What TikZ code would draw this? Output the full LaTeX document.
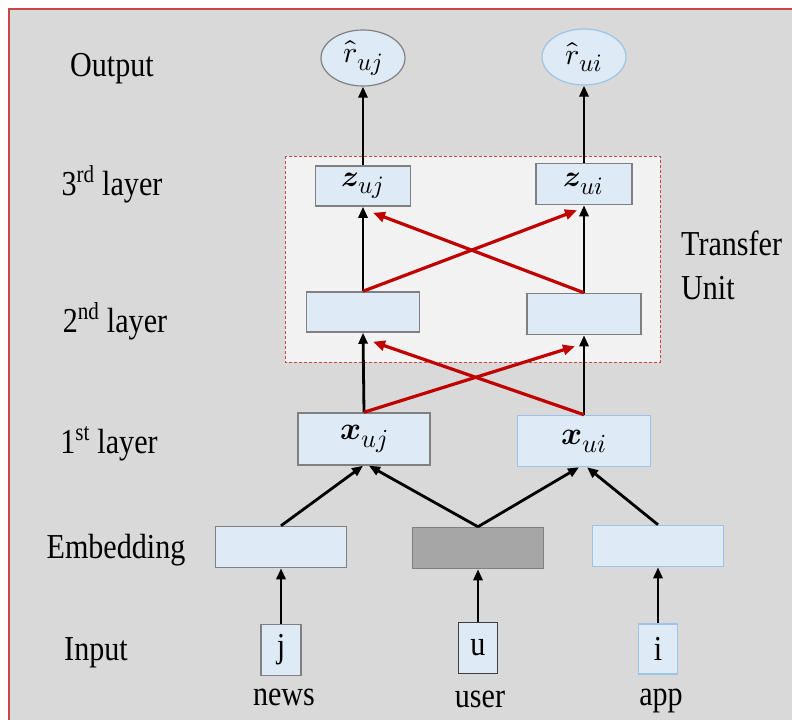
\documentclass[tikz,border=0pt]{standalone}
\usepackage{fontspec}
\usepackage{unicode-math}
\setmainfont{Liberation Serif}
\setmathfont{Latin Modern Math}
\DeclareMathSizes{30}{30}{25}{20}
\DeclareMathSizes{32}{32}{26}{21}
\newfontfamily\lab[FakeStretch=0.86]{Liberation Serif}
\usetikzlibrary{arrows.meta,shapes.geometric}
\definecolor{bg}{RGB}{217,217,217}
\definecolor{frame}{RGB}{200,70,70}
\definecolor{tu}{RGB}{242,242,242}
\definecolor{boxfill}{RGB}{222,235,247}
\definecolor{boxgray}{RGB}{128,128,128}
\definecolor{boxblue}{RGB}{157,195,230}
\definecolor{embgray}{RGB}{166,166,166}
\definecolor{arrred}{RGB}{192,0,0}
\tikzset{
  lbl/.style={font=\lab\fontsize{35}{40}\selectfont, inner sep=0pt},
  mth/.style={font=\fontsize{30}{34}\selectfont},
  mthx/.style={font=\fontsize{32}{36}\selectfont},
  cell/.style={draw=boxgray, fill=boxfill, line width=1.5pt, rectangle, inner sep=0pt},
  bluecell/.style={cell, draw=boxblue},
  oval/.style={ellipse, draw=boxgray, fill=boxfill, line width=1.2pt, inner sep=0pt, minimum width=84pt, minimum height=56pt},
  blk/.style={line width=2.8pt, -{Triangle[length=11pt,width=9pt]}},
  red/.style={line width=3.2pt, draw=arrred, -{Triangle[length=12pt,width=10pt]}},
}
\begin{document}
\begin{tikzpicture}[x=1pt,y=-1pt]
\useasboundingbox (0,0) rectangle (792,720);
\fill[bg] (9,9) rectangle (792,720);
\draw[frame, line width=1.2pt] (9,720) -- (9,9) -- (792,9);
% transfer unit region
\draw[frame, densely dashed, line width=0.7pt, fill=tu] (285,156) rectangle (660,362);
\node[lbl, anchor=base west] (tr) at (681,255) {Transfer};
\node[lbl, anchor=base west] (un) at (681,299) {Unit};
% left labels
\node[lbl, anchor=base] (lo) at (112,76) {Output};
\node[lbl, anchor=base] (l3) at (112,195) {3\textsuperscript{rd} layer};
\node[lbl, anchor=base] (l2) at (115,332) {2\textsuperscript{nd} layer};
\node[lbl, anchor=base] (l1) at (109,453) {1\textsuperscript{st} layer};
\node[lbl, anchor=base] (le) at (116,558) {Embedding};
\node[lbl, anchor=base] (li) at (96,660) {Input};
% outputs
\node[oval, mth] (rj) at (363,58) {$\hat{r}_{uj}$};
\node[oval, mth, draw=boxblue] (ri) at (584,57) {$\hat{r}_{ui}$};
% 3rd layer
\node[cell, mth, minimum width=95pt, minimum height=40pt] (zj) at (363,186) {$\symbfit{z}_{uj}$};
\node[cell, mth, minimum width=96pt, minimum height=41pt] (zi) at (584,184) {$\symbfit{z}_{ui}$};
% 2nd layer
\node[cell, minimum width=113pt, minimum height=40pt] (hj) at (363,312) {};
\node[cell, minimum width=114pt, minimum height=41pt] (hi) at (584,314) {};
% 1st layer
\node[cell, mthx, minimum width=132pt, minimum height=52pt] (xj) at (364,439) {$\symbfit{x}_{uj}$};
\node[bluecell, mthx, minimum width=133pt, minimum height=51pt] (xi) at (584,441) {$\symbfit{x}_{ui}$};
% embedding
\node[cell, minimum width=131pt, minimum height=41pt] (ej) at (281,547) {};
\node[cell, fill=embgray, draw=boxgray, minimum width=131pt, minimum height=41pt] (eu) at (478,548) {};
\node[bluecell, minimum width=131pt, minimum height=41pt] (ei) at (658,546) {};
% inputs
\node[cell, lbl, minimum width=40pt, minimum height=51pt] (ij) at (281,650) {j};
\node[cell, lbl, draw=black!75, line width=1.2pt, minimum width=39pt, minimum height=51pt] (iu) at (478,648) {u};
\node[bluecell, lbl, minimum width=39pt, minimum height=50pt] (ii) at (658,649) {i};
\node[lbl, anchor=base] (nw) at (284,705) {news};
\node[lbl, anchor=base] (us) at (480,707) {user};
\node[lbl, anchor=base] (ap) at (661,705) {app};
% black arrows
\draw[blk] (ij.north) -- (ej.south);
\draw[blk] (iu.north) -- (eu.south);
\draw[blk] (ii.north) -- (ei.south);
\draw[blk] (ej.north) -- ([xshift=-1pt]xj.south);
\draw[blk] (eu.north) -- ([xshift=5pt]xj.south);
\draw[blk] (eu.north) -- ([xshift=-5pt]xi.south);
\draw[blk] (ei.north) -- ([xshift=3pt]xi.south);
\draw[blk] (xj.north) -- (hj.south);
\draw[blk] (xi.north) -- (hi.south);
\draw[blk] (hj.north) -- (zj.south);
\draw[blk] (hi.north) -- (zi.south);
\draw[blk] (zj.north) -- (rj.south);
\draw[blk] (zi.north) -- (ri.south);
% red cross arrows
\draw[red] (xj.north) -- ([xshift=-9pt,yshift=-11pt]hi.south);
\draw[red] (xi.north) -- ([xshift=10pt,yshift=-9pt]hj.south);
\draw[red] (hj.north) -- ([xshift=-7pt,yshift=-5pt]zi.south);
\draw[red] (hi.north) -- ([xshift=10pt,yshift=-6pt]zj.south);
\end{tikzpicture}
\end{document}
